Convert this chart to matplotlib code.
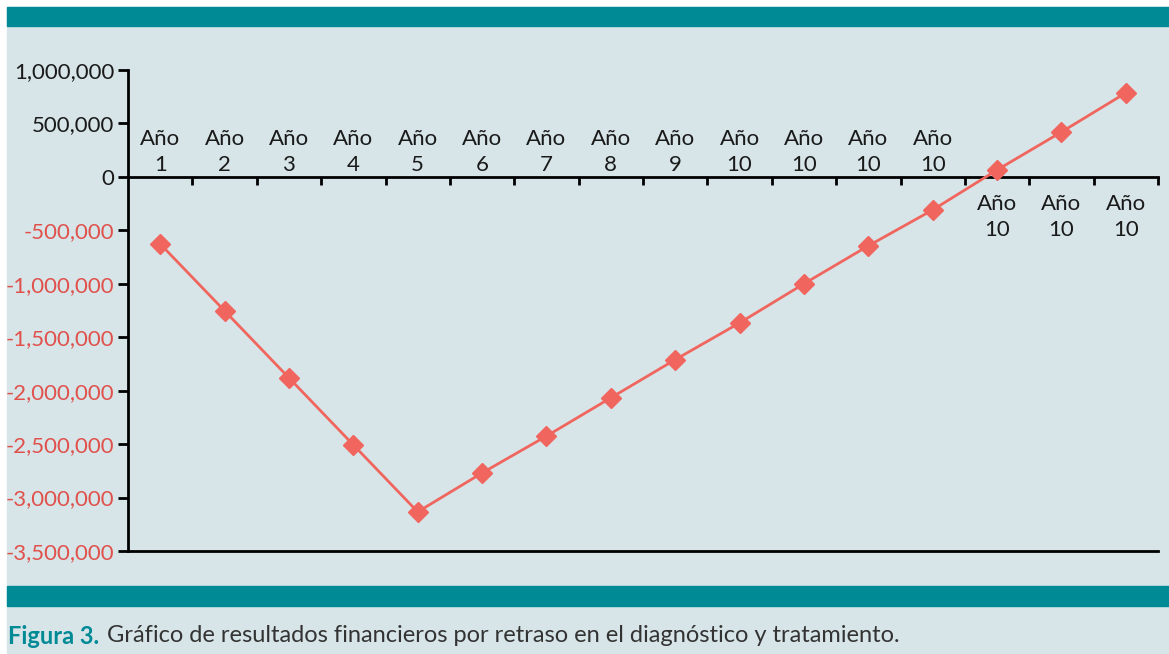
import numpy as np
import matplotlib.pyplot as plt
from matplotlib.patches import Rectangle
from matplotlib.ticker import FuncFormatter

plt.rcParams['font.family'] = ['Lato', 'DejaVu Sans']

# data
labels = ['Año\n1', 'Año\n2', 'Año\n3', 'Año\n4', 'Año\n5', 'Año\n6', 'Año\n7', 'Año\n8',
          'Año\n9', 'Año\n10', 'Año\n10', 'Año\n10', 'Año\n10', 'Año\n10', 'Año\n10', 'Año\n10']
values = [-627000, -1253000, -1880000, -2507000, -3134000, -2770000, -2425000, -2067000,
          -1710000, -1366000, -1000000, -645000, -309000, 65000, 420000, 786000]
yticks = [1000000, 500000, 0, -500000, -1000000, -1500000, -2000000, -2500000, -3000000, -3500000]

teal = '#008a96'
bg = '#d7e5e8'
red = '#f0665e'
redtxt = '#e0514c'

fig = plt.figure(figsize=(11.69, 6.54), dpi=100)
fig.patch.set_facecolor('white')
# background panel and teal bands
fig.add_artist(Rectangle((7/1169, 0), 1, 1 - 7/654, transform=fig.transFigure, color=bg, zorder=0))
fig.add_artist(Rectangle((7/1169, 1 - 26/654), 1, 19/654, transform=fig.transFigure, color=teal, zorder=1))
fig.add_artist(Rectangle((7/1169, 1 - 606/654), 1, 20/654, transform=fig.transFigure, color=teal, zorder=1))

ax = fig.add_axes([128/1169, 1 - 551/654, (1158 - 128)/1169, (551 - 70)/654])
ax.set_facecolor('none')

x = np.arange(len(values))
ax.plot(x, values, color=red, lw=2, marker='D', markersize=10, zorder=3, clip_on=False)

ax.set_xlim(-0.5, len(values) - 0.5)
ax.set_ylim(-3500000, 1000000)

for s in ['top', 'right']:
    ax.spines[s].set_visible(False)
ax.spines['bottom'].set_position(('data', 0))
ax.spines['bottom'].set_linewidth(2)
ax.spines['left'].set_linewidth(2)
ax.axhline(-3500000, color='black', lw=2, clip_on=False)

ax.set_xticks(np.arange(0.5, len(values), 1))
ax.set_xticklabels([])
ax.tick_params(axis='x', direction='out', length=6, width=2)

ax.set_yticks(yticks)
ax.yaxis.set_major_formatter(FuncFormatter(lambda v, p: f'{int(v):,}'))
ax.tick_params(axis='y', direction='out', length=7, width=2, labelsize=16, pad=3)
for t, v in zip(ax.get_yticklabels(), yticks):
    t.set_color(redtxt if v < 0 else '#1a1a1a')

for xi, lab, v in zip(x, labels, values):
    off = -40 if v > 0 else 25
    ax.annotate(lab, (xi, 0), xytext=(0, off * 0.72), textcoords='offset points',
                ha='center', va='center', fontsize=16, color='#1a1a1a', linespacing=1.4)

fig.text(8/1169, 1 - 636/654, 'Figura 3.', color=teal, fontsize=17, fontweight='bold', va='center')
fig.text(107/1169, 1 - 636/654, 'Gráfico de resultados financieros por retraso en el diagnóstico y tratamiento.',
         color='#333333', fontsize=17, va='center')

fig.savefig('out.png', dpi=100, facecolor=fig.get_facecolor())
